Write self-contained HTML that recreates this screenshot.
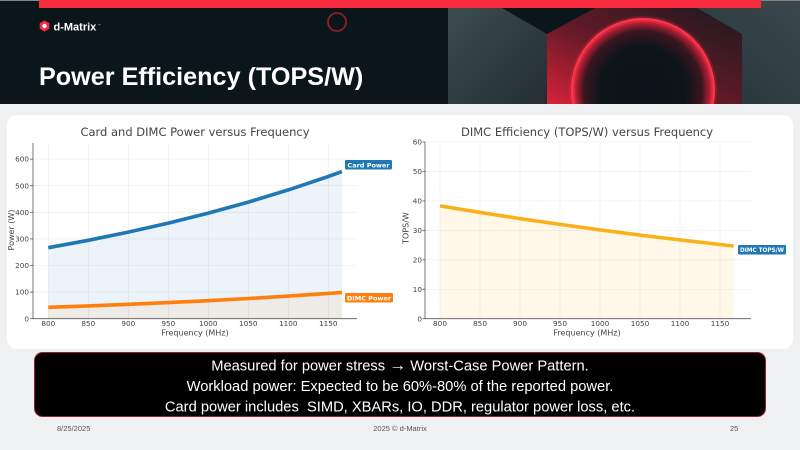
<!DOCTYPE html>
<html><head><meta charset="utf-8"><style>
html,body{margin:0;padding:0;width:800px;height:450px;overflow:hidden;background:#eff1f3;}
svg{display:block;}
</style></head><body>
<svg width="800" height="450" viewBox="0 0 800 450" xmlns="http://www.w3.org/2000/svg">
<defs>
<linearGradient id="gp1" x1="0" y1="0" x2="1" y2="1">
<stop offset="0" stop-color="#3d4c51"/><stop offset="1" stop-color="#222e33"/></linearGradient>
<linearGradient id="gp2" x1="1" y1="0" x2="0" y2="1">
<stop offset="0" stop-color="#3a484d"/><stop offset="1" stop-color="#26343a"/></linearGradient>
<linearGradient id="gred" x1="0" y1="1" x2="1" y2="0">
<stop offset="0" stop-color="#d8223a"/><stop offset="0.45" stop-color="#641a26"/><stop offset="1" stop-color="#1a1a1f"/></linearGradient>
<radialGradient id="gcirc" cx="0.5" cy="0.5" r="0.5">
<stop offset="0" stop-color="#0a1418"/><stop offset="0.6" stop-color="#0e1519"/><stop offset="0.82" stop-color="#3a1520"/><stop offset="0.93" stop-color="#b01f33"/><stop offset="0.98" stop-color="#ff3048"/><stop offset="1" stop-color="#ff3b52"/></radialGradient>
<clipPath id="hclip"><rect x="0" y="0" width="800" height="104"/></clipPath>
</defs>

<!-- header -->
<rect x="0" y="0" width="800" height="104" fill="#0b161b"/>
<g clip-path="url(#hclip)">
<polygon points="448,8 502,8 547,34 547,104 448,104" fill="url(#gp1)"/>
<polygon points="547,34 595,8 697,8 742,34 742,104 547,104" fill="url(#gred)"/>
<polygon points="697,8 800,8 800,104 742,104 742,34" fill="url(#gp2)"/>
<circle cx="643" cy="90" r="74" fill="#ff2a40" opacity="0.25"/>
<circle cx="643" cy="90" r="72" fill="url(#gcirc)"/>
</g>
<rect x="0" y="0" width="800" height="1" fill="#7c8589"/>
<rect x="761" y="1" width="39" height="7" fill="#3c4649"/>
<rect x="39" y="0" width="722" height="8" fill="#fb2b40"/>
<circle cx="337" cy="22" r="9" fill="none" stroke="#8e1d2c" stroke-width="1.8"/>
<!-- logo -->
<polygon points="44.5,20.5 49.3,23.2 49.3,28.8 44.5,31.5 39.7,28.8 39.7,23.2" fill="#f52a3e"/>
<circle cx="44.5" cy="26" r="2.2" fill="#fff"/>
<text x="53.5" y="30.5" font-family="Liberation Sans, sans-serif" font-size="11" font-weight="bold" fill="#fff">d-Matrix</text>
<text x="97.5" y="26" font-family="Liberation Sans, sans-serif" font-size="3" fill="#bbb">™</text>
<text x="39" y="85" font-family="Liberation Sans, sans-serif" font-size="25.2" font-weight="bold" fill="#fff">Power Efficiency (TOPS/W)</text>

<!-- card -->
<rect x="7" y="115" width="786" height="234" rx="10" fill="#fff"/>

<g font-family="DejaVu Sans, sans-serif">
<!-- LEFT CHART -->
<text x="195" y="136" font-size="11.5" fill="#444" text-anchor="middle">Card and DIMC Power versus Frequency</text>
<g stroke="#ebebeb" stroke-width="0.6">
<line x1="48.3" y1="143" x2="48.3" y2="318.7"/><line x1="88.3" y1="143" x2="88.3" y2="318.7"/>
<line x1="128.3" y1="143" x2="128.3" y2="318.7"/><line x1="168.3" y1="143" x2="168.3" y2="318.7"/>
<line x1="208.3" y1="143" x2="208.3" y2="318.7"/><line x1="248.3" y1="143" x2="248.3" y2="318.7"/>
<line x1="288.3" y1="143" x2="288.3" y2="318.7"/><line x1="328.3" y1="143" x2="328.3" y2="318.7"/>
<line x1="33" y1="292.1" x2="357" y2="292.1"/><line x1="33" y1="265.5" x2="357" y2="265.5"/>
<line x1="33" y1="238.9" x2="357" y2="238.9"/><line x1="33" y1="212.3" x2="357" y2="212.3"/>
<line x1="33" y1="185.7" x2="357" y2="185.7"/><line x1="33" y1="159.1" x2="357" y2="159.1"/>
</g>
<polygon points="48.3,247.7 88.3,240.3 128.3,232.1 168.3,223.1 208.3,213.1 248.3,202.1 288.3,189.9 328.3,176.5 341.9,171.6 341.9,318.7 48.3,318.7" fill="#1f77b4" fill-opacity="0.08"/>
<polygon points="48.3,307.3 88.3,305.9 128.3,304.35 168.3,302.6 208.3,300.7 248.3,298.5 288.3,296.1 328.3,293.4 341.9,292.4 341.9,318.7 48.3,318.7" fill="#ff7f0e" fill-opacity="0.08"/>
<polyline points="48.3,247.7 88.3,240.3 128.3,232.1 168.3,223.1 208.3,213.1 248.3,202.1 288.3,189.9 328.3,176.5 341.9,171.6" fill="none" stroke="#1f77b4" stroke-width="3.6" stroke-linejoin="round"/>
<polyline points="48.3,307.3 88.3,305.9 128.3,304.35 168.3,302.6 208.3,300.7 248.3,298.5 288.3,296.1 328.3,293.4 341.9,292.4" fill="none" stroke="#ff7f0e" stroke-width="3.6" stroke-linejoin="round"/>
<g stroke="#555" stroke-width="0.8">
<line x1="33" y1="143" x2="33" y2="318.7"/><line x1="33" y1="318.7" x2="357" y2="318.7"/>
<line x1="30" y1="318.7" x2="33" y2="318.7"/><line x1="30" y1="292.1" x2="33" y2="292.1"/>
<line x1="30" y1="265.5" x2="33" y2="265.5"/><line x1="30" y1="238.9" x2="33" y2="238.9"/>
<line x1="30" y1="212.3" x2="33" y2="212.3"/><line x1="30" y1="185.7" x2="33" y2="185.7"/>
<line x1="30" y1="159.1" x2="33" y2="159.1"/>
</g>
<g font-size="7.3" fill="#444" text-anchor="end">
<text x="29" y="321.3">0</text><text x="29" y="294.7">100</text><text x="29" y="268.1">200</text>
<text x="29" y="241.5">300</text><text x="29" y="214.9">400</text><text x="29" y="188.3">500</text><text x="29" y="161.7">600</text>
</g>
<g font-size="7.3" fill="#444" text-anchor="middle">
<text x="48.3" y="326">800</text><text x="88.3" y="326">850</text><text x="128.3" y="326">900</text>
<text x="168.3" y="326">950</text><text x="208.3" y="326">1000</text><text x="248.3" y="326">1050</text>
<text x="288.3" y="326">1100</text><text x="328.3" y="326">1150</text>
</g>
<text x="195" y="335.5" font-size="8" fill="#444" text-anchor="middle">Frequency (MHz)</text>
<text transform="translate(14,230) rotate(-90)" font-size="8" fill="#444" text-anchor="middle">Power (W)</text>
<rect x="345" y="160" width="47" height="9.5" rx="1.2" fill="#1f77b4"/>
<text x="368.5" y="167.3" font-size="6.5" font-weight="bold" fill="#fff" text-anchor="middle">Card Power</text>
<rect x="345" y="293" width="48" height="9.5" rx="1.2" fill="#ff7f0e"/>
<text x="369" y="300.3" font-size="6.5" font-weight="bold" fill="#fff" text-anchor="middle">DIMC Power</text>

<!-- RIGHT CHART -->
<text x="587" y="136" font-size="11.5" fill="#444" text-anchor="middle">DIMC Efficiency (TOPS/W) versus Frequency</text>
<g stroke="#ebebeb" stroke-width="0.6">
<line x1="440" y1="142" x2="440" y2="318.7"/><line x1="480" y1="142" x2="480" y2="318.7"/>
<line x1="520" y1="142" x2="520" y2="318.7"/><line x1="560" y1="142" x2="560" y2="318.7"/>
<line x1="600" y1="142" x2="600" y2="318.7"/><line x1="640" y1="142" x2="640" y2="318.7"/>
<line x1="680" y1="142" x2="680" y2="318.7"/><line x1="720" y1="142" x2="720" y2="318.7"/>
<line x1="425" y1="289.25" x2="751" y2="289.25"/><line x1="425" y1="259.8" x2="751" y2="259.8"/>
<line x1="425" y1="230.35" x2="751" y2="230.35"/><line x1="425" y1="200.9" x2="751" y2="200.9"/>
<line x1="425" y1="171.45" x2="751" y2="171.45"/><line x1="425" y1="142" x2="751" y2="142"/>
</g>
<polygon points="440,205.9 480,212.4 520,218.6 560,224.4 600,229.9 640,235.1 680,239.9 720,244.5 733.6,246 733.6,318.7 440,318.7" fill="#fbb017" fill-opacity="0.1"/>
<polyline points="440,205.9 480,212.4 520,218.6 560,224.4 600,229.9 640,235.1 680,239.9 720,244.5 733.6,246" fill="none" stroke="#fbb017" stroke-width="3.6" stroke-linejoin="round"/>
<g stroke="#555" stroke-width="0.8">
<line x1="425" y1="142" x2="425" y2="318.7"/><line x1="425" y1="318.7" x2="751" y2="318.7"/>
<line x1="422.5" y1="318.7" x2="425" y2="318.7"/><line x1="422.5" y1="289.25" x2="425" y2="289.25"/>
<line x1="422.5" y1="259.8" x2="425" y2="259.8"/><line x1="422.5" y1="230.35" x2="425" y2="230.35"/>
<line x1="422.5" y1="200.9" x2="425" y2="200.9"/><line x1="422.5" y1="171.45" x2="425" y2="171.45"/>
<line x1="422.5" y1="142" x2="425" y2="142"/>
</g>
<g font-size="7.3" fill="#444" text-anchor="end">
<text x="422" y="321.3">0</text><text x="422" y="291.9">10</text><text x="422" y="262.4">20</text>
<text x="422" y="233">30</text><text x="422" y="203.5">40</text><text x="422" y="174.1">50</text><text x="422" y="144.6">60</text>
</g>
<g font-size="7.3" fill="#444" text-anchor="middle">
<text x="440" y="326">800</text><text x="480" y="326">850</text><text x="520" y="326">900</text>
<text x="560" y="326">950</text><text x="600" y="326">1000</text><text x="640" y="326">1050</text>
<text x="680" y="326">1100</text><text x="720" y="326">1150</text>
</g>
<text x="587" y="335.5" font-size="8" fill="#444" text-anchor="middle">Frequency (MHz)</text>
<text transform="translate(408.5,228) rotate(-90)" font-size="8" fill="#444" text-anchor="middle">TOPS/W</text>
<rect x="738" y="245" width="48" height="9.5" rx="1.2" fill="#1f77b4"/>
<text x="762" y="252.2" font-size="5.7" font-weight="bold" fill="#fff" text-anchor="middle">DIMC TOPS/W</text>
</g>

<!-- bottom box -->
<rect x="34.5" y="352.5" width="731" height="64" rx="8" fill="#000" stroke="#a11d31" stroke-width="1"/>
<g font-family="Liberation Sans, sans-serif" font-size="14.7" fill="#fff" text-anchor="middle">
<text x="400" y="370.5">Measured for power stress <tspan font-size="17" font-weight="bold">→</tspan> Worst-Case Power Pattern.</text>
<text x="400" y="391">Workload power: Expected to be 60%-80% of the reported power.</text>
<text x="400" y="411.5" xml:space="preserve">Card power includes  SIMD, XBARs, IO, DDR, regulator power loss, etc.</text>
</g>

<!-- footer -->
<g font-family="Liberation Sans, sans-serif" font-size="7.5" fill="#555">
<text x="57" y="431">8/25/2025</text>
<text x="400" y="431" text-anchor="middle">2025 © d-Matrix</text>
<text x="730" y="431">25</text>
</g>
</svg>
</body></html>
